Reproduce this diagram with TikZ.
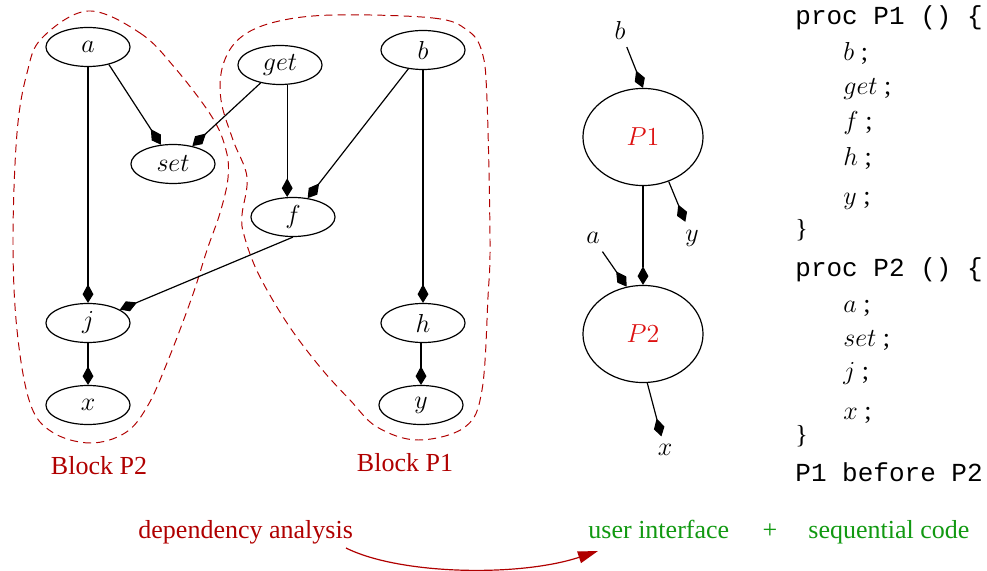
\documentclass[tikz,border=0pt]{standalone}
\usepackage{fontspec}
\setmainfont{Liberation Serif}
\setmonofont{Liberation Mono}
\usetikzlibrary{shapes.geometric,arrows.meta}
\definecolor{blockred}{RGB}{176,0,0}
\definecolor{pred}{RGB}{221,17,17}
\definecolor{ugreen}{RGB}{17,153,17}
\tikzset{
  op/.style={draw, ellipse, line width=0.55pt, minimum width=38.8pt, minimum height=18pt, inner sep=0pt, font=\fontsize{12}{14}\selectfont},
  proc/.style={draw, ellipse, line width=0.55pt, minimum width=55.4pt, minimum height=44.8pt, inner sep=0pt, font=\fontsize{12}{14}\selectfont},
  lbl/.style={inner sep=3.5pt, font=\fontsize{12}{14}\selectfont},
  dep/.style={line width=0.55pt, -{Kite[length=8.6pt,width=5pt,inset=4.6pt]}},
  blk/.style={blockred, line width=0.45pt, dash pattern=on 3.7pt off 2.4pt},
  blklbl/.style={text=blockred, inner sep=0pt, font=\fontsize{12}{14}\selectfont},
  code/.style={anchor=base west, inner sep=0pt, font=\fontsize{12}{14}\selectfont\ttfamily},
  codem/.style={anchor=base west, inner sep=0pt, font=\fontsize{12}{14}\selectfont},
  bot/.style={anchor=base west, inner sep=0pt, font=\fontsize{12}{14}\selectfont},
}
\begin{document}
\begin{tikzpicture}[x=0.4615pt,y=-0.4615pt]
\useasboundingbox (0,0) rectangle (987,571);
% block outlines
\draw[blk] plot[smooth cycle, tension=0.6] coordinates {(88,11) (140,33) (175,68) (212,117) (226,150) (228,178) (220,213) (207,250) (192,297) (167,363) (147,407) (125,433) (90,443) (52,432) (30,403) (17,330) (13,240) (17,133) (27,73) (42,38)};
\draw[blk] plot[smooth cycle, tension=0.6] coordinates {(333,15) (433,18) (467,30) (482,52) (487,100) (490,240) (488,297) (482,390) (465,427) (418,440) (377,427) (350,400) (320,367) (287,323) (258,273) (244,235) (242,215) (247,177) (233,140) (221,100) (223,65) (240,38) (275,22)};
\node[blklbl] (bp2) at (99,466) {Block P2};
\node[blklbl] (bp1) at (405,463) {Block P1};
% left graph
\node[op] (a) at (88,47) {$a$};
\node[op] (get) at (280,65) {$get$};
\node[op] (b) at (423,50) {$b$};
\node[op] (set) at (173,164) {$set$};
\node[op] (f) at (293,217) {$f$};
\node[op] (j) at (88,323) {$j$};
\node[op] (h) at (423,323) {$h$};
\node[op] (x) at (88,405) {$x$};
\node[op] (y) at (421,405) {$y$};
\draw[dep] (a.-40) -- (set.122);
\draw[dep] (get) -- (set);
\draw[dep] (a) -- (j);
\draw[dep] (get.-70) -- (f.north -| get.-70);
\draw[dep] (b) -- (f);
\draw[dep] (b) -- (h);
\draw[dep] (f.south) -- (j);
\draw[dep] (j) -- (x);
\draw[dep] (h.south -| y.north) -- (y);
% right graph
\node[proc] (P1) at (643,137) {\textcolor{pred}{$P1$}};
\node[proc] (P2) at (643,334) {\textcolor{pred}{$P2$}};
\node[lbl] (lb) at (620,30) {$b$};
\node[lbl] (ly) at (692,238) {$y$};
\node[lbl] (la) at (593,238) {$a$};
\node[lbl] (lx) at (665,450) {$x$};
\draw[dep] (lb) -- (P1.north);
\draw[dep] (P1.-60) -- (ly);
\draw[dep] (la) -- (P2.109);
\draw[dep] (P1) -- (P2);
\draw[dep] (P2.-85) -- (lx);
% code
\node[code] (c1) at (795,25) {proc P1 () \{};
\node[codem] (c2) at (843,61) {$b$\ ;};
\node[codem] (c3) at (843,95) {$get$\ ;};
\node[codem] (c4) at (843,130) {$f$\ ;};
\node[codem] (c5) at (843,166) {$h$\ ;};
\node[codem] (c6) at (843,205) {$y$\ ;};
\node[codem] (c7) at (795,238) {\}};
\node[code] (c8) at (795,277) {proc P2 () \{};
\node[codem] (c9) at (843,313) {$a$\ ;};
\node[codem] (c10) at (843,347) {$set$\ ;};
\node[codem] (c11) at (843,380) {$j$\ ;};
\node[codem] (c12) at (843,420) {$x$\ ;};
\node[codem] (c13) at (795,444) {\}};
\node[code] (c14) at (795,481) {P1 before P2};
% bottom
\node[bot, text=blockred] (da) at (138,538) {dependency analysis};
\node[bot, text=ugreen] (ui) at (588,538) {user interface};
\node[bot, text=ugreen, anchor=base] (plus) at (770,538) {+};
\node[bot, text=ugreen] (sc) at (808,538) {sequential code};
\coordinate (s0) at (346,548);
\coordinate (s1) at (598,551);
\draw[blockred, line width=0.55pt, -{Triangle[length=9.2pt,width=5.5pt]}] (s0) .. controls (400,575) and (520,577) .. (s1);
\end{tikzpicture}
\end{document}
